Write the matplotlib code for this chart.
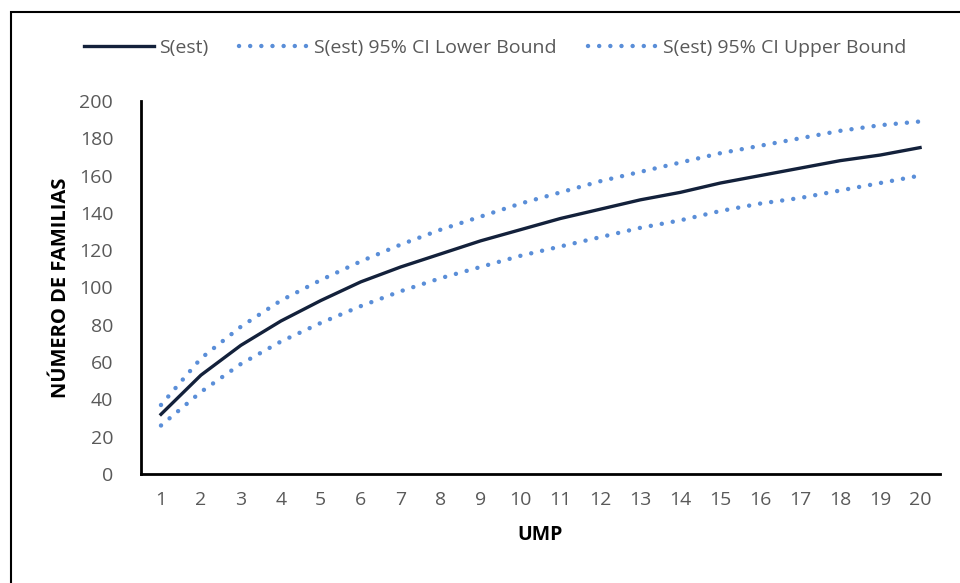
import matplotlib.pyplot as plt
from matplotlib.patches import Rectangle

plt.rcParams['font.family'] = ['Open Sans', 'DejaVu Sans']

# Datos
ump = list(range(1, 21))
s_est = [32, 53, 69, 82, 93, 103, 111, 118, 125, 131,
         137, 142, 147, 151, 156, 160, 164, 168, 171, 175]
s_lower = [26, 44, 59, 71, 81, 90, 98, 105, 111, 117,
           122, 127, 132, 136, 141, 145, 148, 152, 156, 160]
s_upper = [37, 62, 79, 93, 104, 114, 123, 131, 138, 145,
           151, 157, 162, 167, 172, 176, 180, 184, 187, 189]
yticks = list(range(0, 201, 20))

fig = plt.figure(figsize=(9.6, 5.83), dpi=100)
ax = fig.add_axes([0.1469, 0.187, 0.8323, 0.6398])

# Marco exterior
fig.patches.append(Rectangle((11 / 960, -0.1), 1.2, 1 - 12 / 583 + 0.1,
                             transform=fig.transFigure, fill=False,
                             edgecolor='black', linewidth=1.5))

ax.plot(ump, s_est, color='#13213b', linewidth=2.4, label='S(est)')
ax.plot(ump, s_lower, color='#5a8ed8', linewidth=3.2,
        linestyle=(0, (0.01, 2.5)), dash_capstyle='round',
        label='S(est) 95% CI Lower Bound')
ax.plot(ump, s_upper, color='#5a8ed8', linewidth=3.2,
        linestyle=(0, (0.01, 2.5)), dash_capstyle='round',
        label='S(est) 95% CI Upper Bound')

ax.set_xlim(0.5, 20.5)
ax.set_ylim(0, 200)
ax.set_xticks(ump)
ax.set_yticks(yticks)
ax.tick_params(length=0, labelsize=14, labelcolor='#595959', pad=12)
ax.tick_params(axis='y', pad=20)
for s in ['top', 'right']:
    ax.spines[s].set_visible(False)
for s in ['left', 'bottom']:
    ax.spines[s].set_linewidth(2)
    ax.spines[s].set_color('black')

ax.set_xlabel('UMP', fontsize=14, fontweight='bold', labelpad=12)
ax.set_ylabel('NÚMERO DE FAMILIAS', fontsize=14.5, fontweight='bold', labelpad=6)

ax.legend(loc='center', bbox_to_anchor=(495 / 960, 1 - 48 / 583),
          bbox_transform=fig.transFigure, ncol=3, frameon=False,
          fontsize=14, labelcolor='#595959', handlelength=3.6,
          columnspacing=1.6, handletextpad=0.25)

fig.savefig('out.png', dpi=100)
